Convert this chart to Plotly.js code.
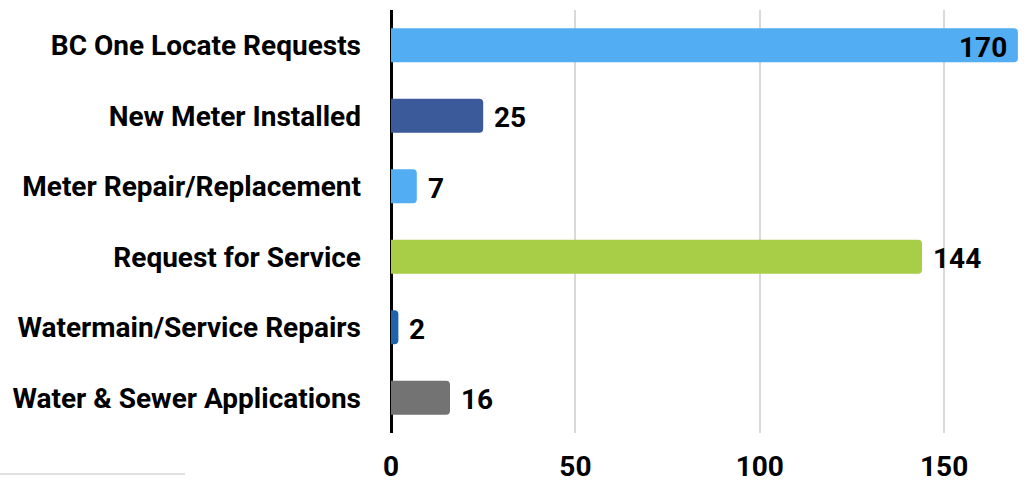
<!DOCTYPE html>
<html>
<head>
<meta charset="utf-8">
<script src="https://cdn.plot.ly/plotly-3.0.1.min.js"></script>
<style>html,body{margin:0;padding:0;background:#fff;}#chart{width:1029px;height:483px;}</style>
</head>
<body>
<div id="chart"></div>
<script>
const categories = ["BC One Locate Requests","New Meter Installed","Meter Repair/Replacement","Request for Service","Watermain/Service Repairs","Water & Sewer Applications"];
const values = [170, 25, 7, 144, 2, 16];
const barColors = ["#52ADF2","#3B5A9A","#52ADF2","#A8CE48","#1F63AE","#737373"];
const xTicks = [0, 50, 100, 150];

const lblFont = {family: "Roboto", size: 28, color: "#000", weight: 700};

const trace = {
  type: "bar",
  orientation: "h",
  x: values,
  y: categories,
  marker: {color: barColors},
  hoverinfo: "none"
};

// value labels: inside the bar end for the longest bar, outside otherwise
const valueLabels = values.map((v, i) => {
  const inside = v >= 160;
  return {
    x: v, y: categories[i], xref: "x", yref: "y",
    text: String(v), showarrow: false,
    xanchor: inside ? "right" : "left",
    yanchor: "middle",
    xshift: inside ? -9 : 9,
    yshift: -2,
    font: lblFont
  };
});

const layout = {
  width: 1029, height: 483,
  margin: {l: 391, r: 10, t: 10, b: 50},
  paper_bgcolor: "#fff", plot_bgcolor: "#fff",
  bargap: 0.52,
  barcornerradius: 4,
  showlegend: false,
  font: {family: "Roboto", color: "#000"},
  xaxis: {
    range: [0, 170.3],
    tickvals: xTicks,
    ticktext: xTicks.map(String),
    showgrid: true, gridcolor: "#d9d9d9", gridwidth: 2,
    zeroline: true, zerolinecolor: "#000", zerolinewidth: 3,
    showline: false, ticks: "",
    tickfont: {family: "Roboto", size: 28, color: "#000", weight: 700},
    ticklabelstandoff: 14,
    fixedrange: true
  },
  yaxis: {
    autorange: "reversed",
    showgrid: false, zeroline: false, showline: false, ticks: "",
    tickfont: {family: "Roboto", size: 28, color: "#000", weight: 700},
    ticklabelstandoff: 29,
    fixedrange: true
  },
  annotations: valueLabels,
  shapes: [{
    type: "line", xref: "paper", yref: "paper",
    x0: -0.6226, x1: -0.328, y0: -0.0969, y1: -0.0969,
    line: {color: "#e0e0e0", width: 2}
  }]
};

Plotly.newPlot("chart", [trace], layout, {displayModeBar: false, staticPlot: true});
</script>
</body>
</html>
